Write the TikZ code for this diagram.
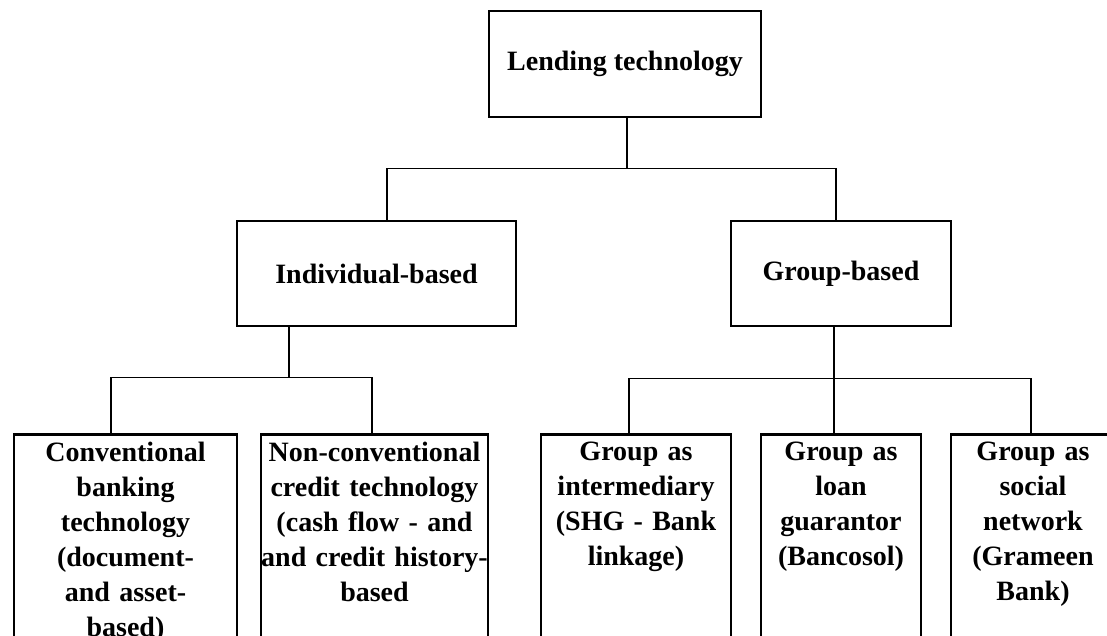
\documentclass[tikz,border=0pt]{standalone}
\usepackage{fontspec}
\setmainfont{Liberation Serif}
\usetikzlibrary{positioning}

\tikzset{
  tbox/.style={draw, line width=2.8pt, inner sep=0pt, align=center,
    font=\bfseries\fontsize{28}{35}\selectfont},
  leafbox/.style={tbox, anchor=north, text width=#1, inner ysep=8pt, text depth=230pt},
  link/.style={line width=1.3pt}
}

\begin{document}
\begin{tikzpicture}[x=1pt,y=-1pt]
  \path[use as bounding box, fill=white] (0,0) rectangle (1107,636);
  \clip (0,0) rectangle (1107,636);

  % top and middle level
  \node[tbox, minimum width=272pt, minimum height=106pt] (lend) at (625,64) {Lending technology};
  \node[tbox, minimum width=279pt, minimum height=105pt] (ind) at (376.5,273.5) {Individual-based};
  \node[tbox, minimum width=220pt, minimum height=105pt] (grp) at (841,273.5) {Group-based};

  % bottom level
  \node[leafbox=223pt] (conv) at (125.5,433) {Conventional\\ banking\\ technology\\ (document-\\ and asset-\\ based)};
  \node[leafbox=227pt] (nonconv) at (374.5,433) {Non-conventional\\ credit technology\\ (cash flow - and\\ and credit history-\\ based};
  \node[leafbox=190pt] (inter) at (636,433) {Group as\\ intermediary\\ (SHG - Bank\\ linkage)};
  \node[leafbox=160pt] (guar) at (841,433) {Group as\\ loan\\ guarantor\\ (Bancosol)};
  \node[leafbox=164pt] (social) at (1033,433) {Group as\\ social\\ network\\ (Grameen\\ Bank)};

  % connectors
  \draw[link] ([xshift=2pt]lend.south) -- ++(0,50) coordinate (lj);
  \draw[link] (lj) -| ([xshift=10.5pt]ind.north);
  \draw[link] (lj) -| ([xshift=-5pt]grp.north);

  \draw[link] ([xshift=-87.5pt]ind.south) -- ++(0,50) coordinate (ij);
  \draw[link] (ij) -| ([xshift=-14.5pt]conv.north);
  \draw[link] (ij) -| ([xshift=-2.5pt]nonconv.north);

  \draw[link] ([xshift=-7pt]grp.south) -- ++(0,51) coordinate (gj);
  \draw[link] (gj) -| ([xshift=-7pt]inter.north);
  \draw[link] (gj) -| ([xshift=-7pt]guar.north);
  \draw[link] (gj) -| ([xshift=-2pt]social.north);
\end{tikzpicture}
\end{document}
